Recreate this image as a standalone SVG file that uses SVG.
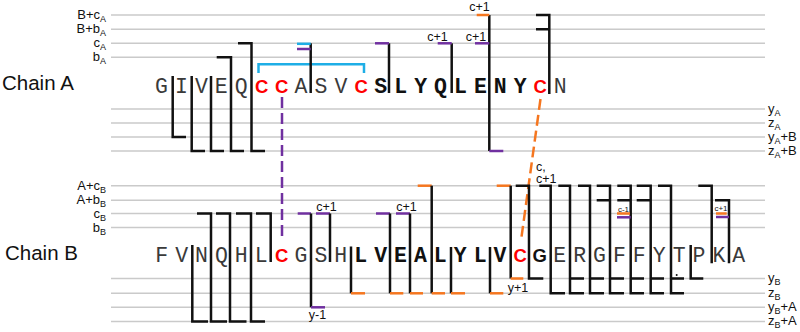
<svg xmlns="http://www.w3.org/2000/svg" width="800" height="332" viewBox="0 0 800 332">
<style>
.grid line{stroke:#cacaca;stroke-width:1.6}
.lab{font-family:"Liberation Sans",Arial,sans-serif;font-size:13px;fill:#111}
.sub{font-size:9px}
.title{font-family:"Liberation Sans",Arial,sans-serif;font-size:20.5px;fill:#111}
.res{font-family:"Liberation Mono","Courier New",monospace;font-size:21.5px;fill:#3a3a3a;text-anchor:middle}
.bold{font-weight:bold;fill:#111}
.cys{font-family:"Liberation Sans",Arial,sans-serif;font-size:18.5px;font-weight:bold;fill:#ff0000;text-anchor:middle}
.gb{font-family:"Liberation Sans",Arial,sans-serif;font-size:18.5px;font-weight:bold;fill:#111;text-anchor:middle}
.ann{font-family:"Liberation Sans",Arial,sans-serif;font-size:12.5px;fill:#111}
.tiny{font-family:"Liberation Sans",Arial,sans-serif;font-size:8px;fill:#111;text-anchor:middle}
.k{fill:none;stroke:#111;stroke-width:2.5}
.o{fill:none;stroke:#f5761f;stroke-width:2.5}
.p{fill:none;stroke:#7030a0;stroke-width:2.5}
.cy{fill:none;stroke:#1eaee6;stroke-width:2.5}
</style>

<g id="gridlines" class="grid">
<line x1="111" y1="15" x2="765" y2="15"/>
<line x1="111" y1="29.3" x2="765" y2="29.3"/>
<line x1="111" y1="43.3" x2="765" y2="43.3"/>
<line x1="111" y1="57.3" x2="765" y2="57.3"/>
<line x1="111" y1="109" x2="765" y2="109"/>
<line x1="111" y1="123" x2="765" y2="123"/>
<line x1="111" y1="137" x2="765" y2="137"/>
<line x1="111" y1="151" x2="765" y2="151"/>
<line x1="111" y1="185.7" x2="765" y2="185.7"/>
<line x1="111" y1="200.3" x2="765" y2="200.3"/>
<line x1="111" y1="213.5" x2="765" y2="213.5"/>
<line x1="111" y1="227.5" x2="765" y2="227.5"/>
<line x1="111" y1="278.5" x2="765" y2="278.5"/>
<line x1="111" y1="293.3" x2="765" y2="293.3"/>
<line x1="111" y1="307.3" x2="765" y2="307.3"/>
<line x1="111" y1="321.5" x2="765" y2="321.5"/>
</g>

<g id="axis-labels" class="lab">
<text x="106" y="19" text-anchor="end">B+c<tspan class="sub" dy="3">A</tspan></text>
<text x="106" y="33.3" text-anchor="end">B+b<tspan class="sub" dy="3">A</tspan></text>
<text x="106" y="47.3" text-anchor="end">c<tspan class="sub" dy="3">A</tspan></text>
<text x="106" y="61.3" text-anchor="end">b<tspan class="sub" dy="3">A</tspan></text>
<text x="768" y="112.5">y<tspan class="sub" dy="3">A</tspan></text>
<text x="768" y="126.5">z<tspan class="sub" dy="3">A</tspan></text>
<text x="768" y="140.5">y<tspan class="sub" dy="3">A</tspan><tspan dy="-3">+B</tspan></text>
<text x="768" y="154.5">z<tspan class="sub" dy="3">A</tspan><tspan dy="-3">+B</tspan></text>
<text x="106" y="189.5" text-anchor="end">A+c<tspan class="sub" dy="3">B</tspan></text>
<text x="106" y="203.8" text-anchor="end">A+b<tspan class="sub" dy="3">B</tspan></text>
<text x="106" y="217.5" text-anchor="end">c<tspan class="sub" dy="3">B</tspan></text>
<text x="106" y="231.5" text-anchor="end">b<tspan class="sub" dy="3">B</tspan></text>
<text x="768" y="282">y<tspan class="sub" dy="3">B</tspan></text>
<text x="768" y="296.8">z<tspan class="sub" dy="3">B</tspan></text>
<text x="768" y="310.8">y<tspan class="sub" dy="3">B</tspan><tspan dy="-3">+A</tspan></text>
<text x="768" y="325">z<tspan class="sub" dy="3">B</tspan><tspan dy="-3">+A</tspan></text>
</g>

<g id="chainA-title"><text class="title" x="2" y="90">Chain A</text></g>
<g id="chainB-title"><text class="title" x="5" y="260">Chain B</text></g>

<g id="chainA-sequence">
<text class="res" x="161.5" y="92.5">G</text>
<text class="res" x="181.4" y="92.5">I</text>
<text class="res" x="201.4" y="92.5">V</text>
<text class="res" x="221.3" y="92.5">E</text>
<text class="res" x="241.2" y="92.5">Q</text>
<text class="cys" x="261.7" y="92.5">C</text>
<text class="cys" x="281.6" y="92.5">C</text>
<text class="res" x="301" y="92.5">A</text>
<text class="res" x="321" y="92.5">S</text>
<text class="res" x="340.9" y="92.5">V</text>
<text class="cys" x="361.3" y="92.5">C</text>
<text class="res bold" x="380.7" y="92.5">S</text>
<text class="res bold" x="400.7" y="92.5">L</text>
<text class="res bold" x="420.6" y="92.5">Y</text>
<text class="res bold" x="440.5" y="92.5">Q</text>
<text class="res bold" x="460.5" y="92.5">L</text>
<text class="res bold" x="480.4" y="92.5">E</text>
<text class="res bold" x="500.3" y="92.5">N</text>
<text class="res bold" x="520.2" y="92.5">Y</text>
<text class="cys" x="540.2" y="92.5">C</text>
<text class="res" x="560.1" y="92.5">N</text>
</g>

<g id="chainB-sequence">
<text class="res" x="161.7" y="261.5">F</text>
<text class="res" x="181.6" y="261.5">V</text>
<text class="res" x="201.5" y="261.5">N</text>
<text class="res" x="221.4" y="261.5">Q</text>
<text class="res" x="241.3" y="261.5">H</text>
<text class="res" x="261.2" y="261.5">L</text>
<text class="cys" x="281.6" y="261.5">C</text>
<text class="res" x="301" y="261.5">G</text>
<text class="res" x="320.9" y="261.5">S</text>
<text class="res" x="340.8" y="261.5">H</text>
<text class="res bold" x="360.7" y="261.5">L</text>
<text class="res bold" x="380.6" y="261.5">V</text>
<text class="res bold" x="400.5" y="261.5">E</text>
<text class="res bold" x="420.4" y="261.5">A</text>
<text class="res bold" x="440.3" y="261.5">L</text>
<text class="res bold" x="460.2" y="261.5">Y</text>
<text class="res bold" x="480.1" y="261.5">L</text>
<text class="res bold" x="500" y="261.5">V</text>
<text class="cys" x="520.2" y="261.5">C</text>
<text class="gb" x="539.8" y="261.5">G</text>
<text class="res" x="559.7" y="261.5">E</text>
<text class="res" x="579.6" y="261.5">R</text>
<text class="res" x="599.5" y="261.5">G</text>
<text class="res" x="619.4" y="261.5">F</text>
<text class="res" x="639.3" y="261.5">F</text>
<text class="res" x="659.2" y="261.5">Y</text>
<text class="res" x="679.1" y="261.5">T</text>
<text class="res" x="699" y="261.5">P</text>
<text class="res" x="718.9" y="261.5">K</text>
<text class="res" x="738.8" y="261.5">A</text>
</g>

<g id="connectors">
<path class="cy" d="M258.5,73 V64.3 H364 V73"/>
<path class="p" d="M282,97 V236" stroke-dasharray="11 5"/>
<path class="o" d="M540.5,99 L521.5,237" stroke-dasharray="11 5"/>

<path class="k" d="M172.7,76 V137 H186"/>
<path class="k" d="M191.7,76 V151 H205"/>
<path class="k" d="M211,76 V151 H224"/>
<path class="k" d="M216.7,57.3 H231 V151 H244"/>
<path class="k" d="M238,43.3 H251.5 V151 H265"/>
<path class="k" d="M310.7,43.3 V93"/>
<path class="cy" d="M297,43.8 H310.7"/>
<path class="p" d="M297,49 H310.7"/>
<path class="k" d="M389,43.3 V93"/>
<path class="p" d="M375,43.3 H389"/>
<path class="k" d="M451.7,43.3 V93"/>
<path class="p" d="M437.7,43.3 H451.7"/>
<path class="k" d="M489.3,15 V151"/>
<path class="o" d="M476.7,15 H489.3"/>
<path class="p" d="M475,43.3 H489.3"/>
<path class="p" d="M489.3,151 H503.3"/>
<path class="k" d="M536,15 H549.3 V94 M536,29.3 H549.3"/>

<path class="k" d="M192.3,245 V321.5 H208"/>
<path class="k" d="M197,213.5 H211 V321.5 H227"/>
<path class="k" d="M216,213.5 H230 V321.5 H246.5"/>
<path class="k" d="M236,213.5 H251 V321.5 H265"/>
<path class="k" d="M256,213.5 H270.7 V262"/>
<path class="p" d="M297.7,213.5 H311"/>
<path class="k" d="M311,213.5 V307.3"/>
<path class="p" d="M311,307.3 H325"/>
<path class="p" d="M316,213.5 H330"/>
<path class="k" d="M330,213.5 V262"/>
<path class="k" d="M351,246.5 V293.3"/>
<path class="o" d="M351,293.3 H365"/>
<path class="p" d="M376,213.5 H390"/>
<path class="k" d="M390,213.5 V293.3"/>
<path class="o" d="M390,293.3 H403.3"/>
<path class="p" d="M396,213.5 H410"/>
<path class="k" d="M410,213.5 V293.3"/>
<path class="o" d="M410,293.3 H423"/>
<path class="o" d="M417.7,185.7 H431.7"/>
<path class="k" d="M431.7,185.7 V293.3"/>
<path class="o" d="M431.7,293.3 H445"/>
<path class="k" d="M451,247 V293.3"/>
<path class="o" d="M451,293.3 H465"/>
<path class="k" d="M490,247 V293.3"/>
<path class="o" d="M490,293.3 H503.3"/>
<path class="o" d="M496.7,185.7 H510.7"/>
<path class="k" d="M510.7,185.7 V278.5"/>
<path class="o" d="M510.7,278.5 H523.3"/>
<path class="k" d="M515.7,185.7 H529 V278.5 H543.3"/>
<path class="k" d="M539.3,185.7 H550.7 V293.3 H565"/>
<path class="k" d="M558.3,185.7 H570 V293.3 H584 M570,278.5 H584"/>
<path class="k" d="M578,185.7 H590 V293.3 H604 M590,278.5 H604"/>
<path class="k" d="M596.7,185.7 H610 V293.3 H624 M596.7,200.3 H610 M610,278.5 H624"/>
<path class="k" d="M617.3,185.7 H630.7 V293.3 H644 M617.3,200.3 H630.7 M630.7,278.5 H644"/>
<path class="o" d="M617,213.5 H630"/>
<path class="p" d="M617,217.3 H630.7"/>
<path class="k" d="M636.7,185.7 H650.7 V293.3 H664 M636.7,200.3 H650.7 M650.7,278.5 H664"/>
<path class="k" d="M658,185.7 H671 V293.3 H684 M671,278.5 H684"/>
<circle cx="676.7" cy="275" r="1" fill="#111"/>
<path class="k" d="M690.7,245 V278.5 H703.3"/>
<path class="k" d="M698.3,185.7 H711.7 V263.3"/>
<path class="k" d="M715,200.3 H729 V263.3"/>
<path class="o" d="M716,213.5 H726.7"/>
<path class="p" d="M716,217 H729"/>
</g>

<g id="annotations" class="ann">
<text x="479.5" y="11" text-anchor="middle">c+1</text>
<text x="476" y="41" text-anchor="middle">c+1</text>
<text x="437.5" y="41" text-anchor="middle">c+1</text>
<text x="326.5" y="211" text-anchor="middle">c+1</text>
<text x="406.5" y="211" text-anchor="middle">c+1</text>
<text x="317.5" y="318.5" text-anchor="middle">y-1</text>
<text x="518" y="291.5" text-anchor="middle">y+1</text>
<text x="536" y="170.5">c,</text>
<text x="536" y="183">c+1</text>
<text class="tiny" x="623.5" y="211.5">c-1</text>
<text class="tiny" x="721" y="211">c+1</text>
</g>
</svg>
